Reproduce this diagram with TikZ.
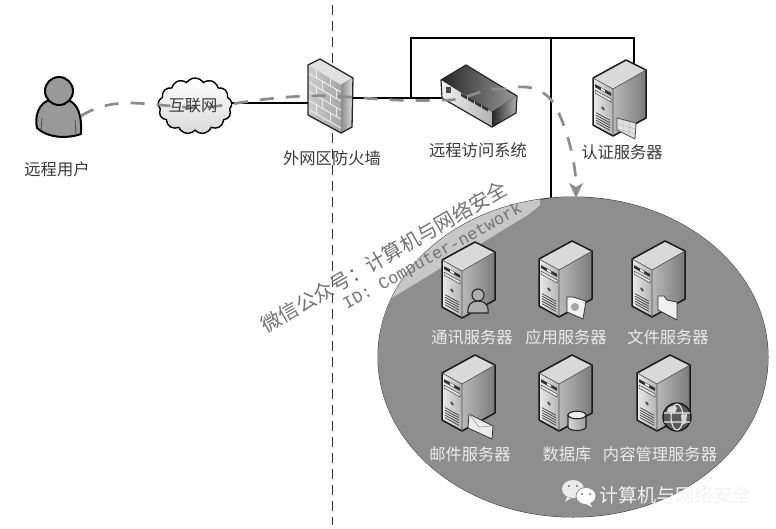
\documentclass[tikz,border=0pt]{standalone}
\usepackage{fontspec}
\setmainfont{Noto Sans CJK SC}
\newfontfamily\monofnt{Liberation Mono}
\usetikzlibrary{shapes.symbols,arrows.meta,calc}
\definecolor{dgrey}{HTML}{8E8E8E}
\definecolor{txt}{HTML}{3A3A3A}
\tikzset{
  lab/.style={text=txt,font=\fontsize{16.3}{18}\selectfont,inner sep=0pt},
  wlab/.style={text=white!92!black,font=\fontsize{16.3}{18}\selectfont,inner sep=0pt},
  cable/.style={draw=black,line width=2pt},
  flow/.style={draw=black!45,line width=2.7pt,dash pattern=on 14pt off 12pt},
  srvline/.style={draw=black!90,line width=1.5pt,line join=round},
  server/.pic={
    \fill[left color=white!92!black,right color=white!70!black] (-33,18)--(-13,29)--(-13,76)--(-33,65)--cycle;
    \fill[left color=white!72!black,right color=white!48!black] (-13,29)--(20,10)--(20,58)--(-13,76)--cycle;
    \fill[white!85!black] (0,0)--(20,10)--(-13,29)--(-33,18)--cycle;
    \begin{scope}[shift={(-33,18)},yslant=-0.55]
      \fill[black!80] (2,5) rectangle (18,8);
      \fill[white!95!black] (8,5.5) rectangle (12,7.5);
      \draw[black!70,fill=white!90!black,line width=.5pt] (2,11) rectangle (18,14);
      \fill[black!70] (10,25) circle (1.7);
      \foreach \v in {33,35.5,38,40.5,43} \draw[black!75,line width=.7pt] (3,\v)--(17,\v);
    \end{scope}
    \draw[srvline] (0,0)--(20,10)--(20,58)--(-13,76)--(-33,65)--(-33,18)--cycle;
    \draw[black!70,line width=.6pt] (-33,18)--(-13,29)--(20,10) (-13,29)--(-13,76);
  },
  persbadge/.pic={
    \fill[white!68!black,draw=black!85,line width=1.1pt] (-10,71) .. controls (-11,62) and (-6,59) .. (0,59) .. controls (6,59) and (11,62) .. (10,71) -- cycle;
    \fill[white!68!black,draw=black!85,line width=1.1pt] (0,53) circle (6);
  },
  docbadge/.pic={
    \fill[white!95!black,draw=black!80,line width=.8pt] (-5,56)--(1,56)--(14,60)--(11,78)--(-5,71)--cycle;
    \fill[white!65!black] (3,66) circle (4);
  },
  filebadge/.pic={
    \fill[white!94!black,draw=black!80,line width=.8pt] (-7,55)--(-1,55)--(2,59)--(12,61)--(12,79)--(-7,69)--cycle;
  },
  certbadge/.pic={
    \fill[white!88!black,draw=black!70,line width=.8pt] (-9,58)--(10,63)--(9,79)--(-9,70)--cycle;
    \draw[white!72!black,line width=.5pt] (-3,60)--(-3,73) (3,62)--(3,76) (-9,64)--(10,69) (-9,69)--(9,74);
  },
  envbadge/.pic={
    \fill[white!92!black,draw=black!80,line width=.8pt] (-6,59)--(18,71)--(17,84)--(-7,73)--cycle;
    \draw[white!60!black,line width=.6pt] (-6,59)--(4,72)--(18,71);
  },
  cylbadge/.pic={
    \fill[left color=white!85!black,right color=white!60!black,draw=black!85,line width=1.1pt] (-4,60)--(-4,72) arc[start angle=180,end angle=360,x radius=9,y radius=-3.5]--(14,60)--cycle;
    \fill[white!92!black,draw=black!85,line width=1.1pt] (5,60) ellipse (9 and 3.8);
  },
  globebadge/.pic={
    \fill[black!65,draw=black!90,line width=1.4pt] (7,62) circle (14);
    \draw[white!92!black,line width=1.1pt] (7,62) ellipse (6 and 13) (-6,58)--(20,58) (-6,67)--(20,67);
    \fill[white!85!black] (-2,53) .. controls (2,50) and (6,50) .. (7,53) -- (5,58) -- (-3,57) -- cycle;
    \fill[white!85!black] (11,60) -- (17,59) -- (16,68) -- (12,70) -- cycle;
  },
}
\begin{document}
\begin{tikzpicture}[x=1pt,y=-1pt]
\useasboundingbox (0,0) rectangle (776,528);
\fill[white] (0,0) rectangle (776,528);

% boundary
\coordinate (bt) at (332,5);
\coordinate (bb) at (332,525);
\draw[black!80,line width=1pt,dash pattern=on 10pt off 6pt] (bt)--(bb);

% cables (under devices)
\coordinate (fwc) at (330,100);
\coordinate (swc) at (478,98);
\coordinate (tl) at (411,38);
\coordinate (tm) at (551,38);
\coordinate (tr) at (634,38);
\coordinate (drop) at (551,198);
\coordinate (auth) at (634,70);
\coordinate (tap) at (411,98);
\coordinate (cloudc) at (195,106);
\draw[cable] (195,103)--(330,103);
\draw[cable] (330,98)--(swc);
\draw[cable] (tap)--(tl)--(tr)--(auth);
\draw[cable] (tm)--(drop);

% network ellipse
\fill[dgrey] (573,357) ellipse (195 and 160);
\draw[black!75,line width=1pt] (573,357) ellipse (195 and 160);
\begin{scope}
  \clip (573,357) ellipse (195 and 160);
  \fill[white!78!black] (350,190) rectangle (540,330) ;
  \fill[dgrey] (392,298)--(528,215)--(560,190)--(780,190)--(780,530)--(360,530)--(360,318)--cycle;
\end{scope}

% servers
\pic at (626,60) {server};
\pic at (626,60) {certbadge};
\pic at (475,242) {server};
\pic at (478,242) {persbadge};
\pic at (572,241) {server};
\pic at (572,241) {docbadge};
\pic at (665,241) {server};
\pic at (665,241) {filebadge};
\pic at (475,355) {server};
\pic at (475,355) {envbadge};
\pic at (572,355) {server};
\pic at (572,355) {cylbadge};
\pic at (670,355) {server};
\pic at (670,355) {globebadge};

% person
\fill[white!60!black,draw=black,line width=2pt,line join=round]
  (37,128) .. controls (34,115) and (40,102) .. (50,100) -- (68,100) .. controls (78,104) and (82,115) .. (81,134) .. controls (66,139) and (48,138) .. (37,128) -- cycle;
\draw[black!70,line width=.8pt] (41,130)--(42,118) (76,134)--(75,120);
\fill[white!60!black,draw=black,line width=2pt] (59,91) circle (14);
\coordinate (user) at (81,116);

% firewall
\fill[left color=white!80!black,right color=white!65!black] (308,65)--(341,85)--(341,133)--(308,115)--cycle;
\fill[white!88!black] (320,59)--(353,78)--(341,85)--(308,65)--cycle;
\fill[left color=white!55!black,right color=white!88!black] (341,85)--(353,78)--(352,127)--(341,133)--cycle;
\begin{scope}[shift={(308,65)},yslant=-0.58]
  \foreach \v in {8,17,26,35,44} \draw[white!92!black,line width=1pt] (0,\v)--(33,\v);
  \foreach \u/\a/\b in {8/0/8,22/0/8,14/8/17,28/8/17,8/17/26,22/17/26,14/26/35,28/26/35,8/35/44,22/35/44}
    \draw[white!92!black,line width=1pt] (\u,\a)--(\u,\b);
\end{scope}
\draw[black!85,line width=1.3pt,line join=round] (320,59)--(353,78)--(352,127)--(341,133)--(308,115)--(308,65)--cycle;

% switch
\fill[left color=black!85,right color=white!60!black] (466,65)--(517,96)--(492,112)--(441,80)--cycle;
\fill[left color=white!95!black,right color=white!70!black] (441,80)--(492,112)--(492,127)--(442,98)--cycle;
\fill[left color=black!85,right color=white!70!black] (492,112)--(517,96)--(516,113)--(492,127)--cycle;
\fill[black!70] (446,87) rectangle (451,93);
\foreach \i in {0,1,2,3} \fill[black!80] ($(461,93)+(\i*7,\i*4)$)--++(6,3.5)--++(0,3)--++(-6,-3.5)--cycle;
\draw[black!85,line width=1.2pt,line join=round] (466,65)--(517,96)--(516,113)--(492,127)--(442,98)--(441,80)--cycle;

% cloud
\node[cloud,cloud puffs=13,cloud puff arc=115,aspect=1.35,draw=black,line width=1.4pt,
  top color=white,bottom color=white!85!black,minimum width=74pt,minimum height=56pt,inner sep=0pt] (cloud) at (cloudc) {};

% flow
\coordinate (f1) at (128,103);
\coordinate (f2) at (172,106);
\coordinate (f3) at (238,103);
\coordinate (f4) at (332,96);
\coordinate (f5) at (442,100);
\coordinate (f6) at (505,89);
\coordinate (f7) at (555,105);
\coordinate (netin) at (576,198);
\draw[flow] (user) .. controls (95,107) and (112,103) .. (f1) .. controls (145,103) and (158,105) .. (f2) .. controls (195,109) and (215,107) .. (f3) .. controls (270,98) and (300,95) .. (f4) .. controls (370,98) and (400,102) .. (f5) .. controls (465,102) and (480,87) .. (f6) .. controls (530,83) and (545,90) .. (f7) .. controls (570,135) and (575,165) .. ($(netin)+(0,-16)$);
\fill[black!45] (netin)--(569,183)--(576,187)--(583,183)--cycle;

% labels
\node[lab] (cloudtext) at (193,105) {互联网};
\node[lab] (l1) at (57,169) {远程用户};
\node[lab] (l2) at (332,158) {外网区防火墙};
\node[lab] (l3) at (478,150) {远程访问系统};
\node[lab] (l4) at (622,152) {认证服务器};
\node[wlab] (l5) at (472,337) {通讯服务器};
\node[wlab] (l6) at (566,337) {应用服务器};
\node[wlab] (l7) at (668,337) {文件服务器};
\node[wlab] (l8) at (470,454) {邮件服务器};
\node[wlab] (l9) at (567,454) {数据库};
\node[wlab] (l10) at (660,454) {内容管理服务器};

% watermark
\node[inner sep=0pt,rotate=30,text=black!55,font=\fontsize{20}{22}\selectfont] (wm1) at (384,257) {微信公众号：计算机与网络安全};
\node[inner sep=0pt,rotate=29,text=black!55,font=\monofnt\fontsize{16.8}{18}\selectfont] (wm2) at (433,257) {ID: Computer-network};

% wechat mark
\fill[white!92!black] (573,489) ellipse (11 and 9);
\fill[white!92!black] (567,497)--(565,502)--(571,498)--cycle;
\fill[white] (586,496) ellipse (10 and 8.5);
\draw[dgrey,line width=.8pt] (586,496) ellipse (10 and 8.5);
\fill[white] (590,503)--(592,507)--(586,504)--cycle;
\fill[black!55] (569,486) circle (1.2) (577,486) circle (1.2) (582,494) circle (1.2) (590,494) circle (1.2);
\node[inner sep=0pt,text=white!95!black,font=\fontsize{19}{22}\selectfont] (wx) at (675,495) {计算机与网络安全};
\end{tikzpicture}
\end{document}
